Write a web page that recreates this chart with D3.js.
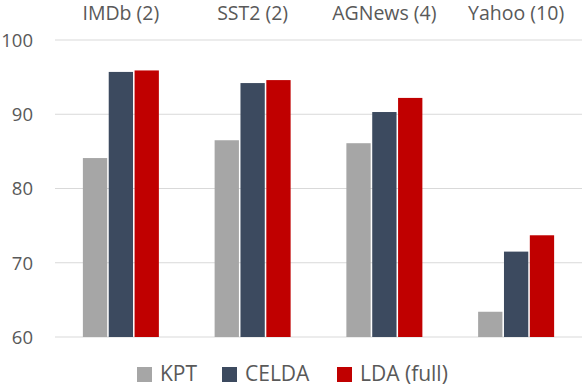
<!DOCTYPE html>
<html><head><meta charset="utf-8">
<script src="https://cdn.jsdelivr.net/npm/d3@7"></script>
<style>body{margin:0;background:#fff}svg{display:block}text{font-family:"Open Sans","Noto Sans",sans-serif;fill:#595959}</style>
</head><body><svg id="c" width="582" height="388"></svg>
<script>
const categories = ["IMDb (2)", "SST2 (2)", "AGNews (4)", "Yahoo (10)"];
const seriesNames = ["KPT", "CELDA", "LDA (full)"];
const kpt = [84.1, 86.5, 86.1, 63.4];
const celda = [95.7, 94.2, 90.3, 71.5];
const ldaFull = [95.9, 94.6, 92.2, 73.7];
const yTicks = [60, 70, 80, 90, 100];
const colors = ["#a6a6a6", "#3c4a5f", "#c00000"];

const values = [kpt, celda, ldaFull];
const svg = d3.select("#c");
const x = d3.scaleBand().domain(categories).range([55, 582]).paddingInner(0).paddingOuter(0);
const y = d3.scaleLinear().domain([60, 100]).range([337, 40]);
const xs = d3.scaleBand().domain(seriesNames).range([0, 76]).paddingInner(0.06);

svg.append("g").selectAll("line").data(yTicks).join("line")
  .attr("x1", 55).attr("x2", 582).attr("y1", d => y(d)).attr("y2", d => y(d))
  .attr("stroke", "#d9d9d9").attr("stroke-width", 1);

const yAxis = d3.axisLeft(y).tickValues(yTicks).tickSize(0).tickPadding(0);
const ga = svg.append("g").attr("transform", "translate(33,0)").call(yAxis);
ga.select(".domain").remove();
ga.selectAll("text").style("font-size", "18.5px").attr("fill", "#595959").attr("dy", "0.34em");

categories.forEach((c, i) => {
  const cx = x(c) + x.bandwidth() / 2;
  const g = svg.append("g").attr("transform", `translate(${cx - 38},0)`);
  g.selectAll("rect").data(seriesNames).join("rect")
    .attr("x", s => xs(s)).attr("width", xs.bandwidth())
    .attr("y", (s, j) => y(values[j][i]))
    .attr("height", (s, j) => y(60) - y(values[j][i]))
    .attr("fill", (s, j) => colors[j]);
});

svg.append("g").selectAll("text").data(categories).join("text")
  .attr("x", d => x(d) + x.bandwidth() / 2).attr("y", 20)
  .attr("text-anchor", "middle").style("font-size", "19.5px").text(d => d);

const legX = [137, 222, 337];
const lg = svg.append("g").selectAll("g").data(seriesNames).join("g")
  .attr("transform", (d, i) => `translate(${legX[i]},367)`);
lg.append("rect").attr("width", 15).attr("height", 15).attr("fill", (d, i) => colors[i]);
lg.append("text").attr("x", 23).attr("y", 14).style("font-size", "21px").text(d => d);
</script></body></html>
